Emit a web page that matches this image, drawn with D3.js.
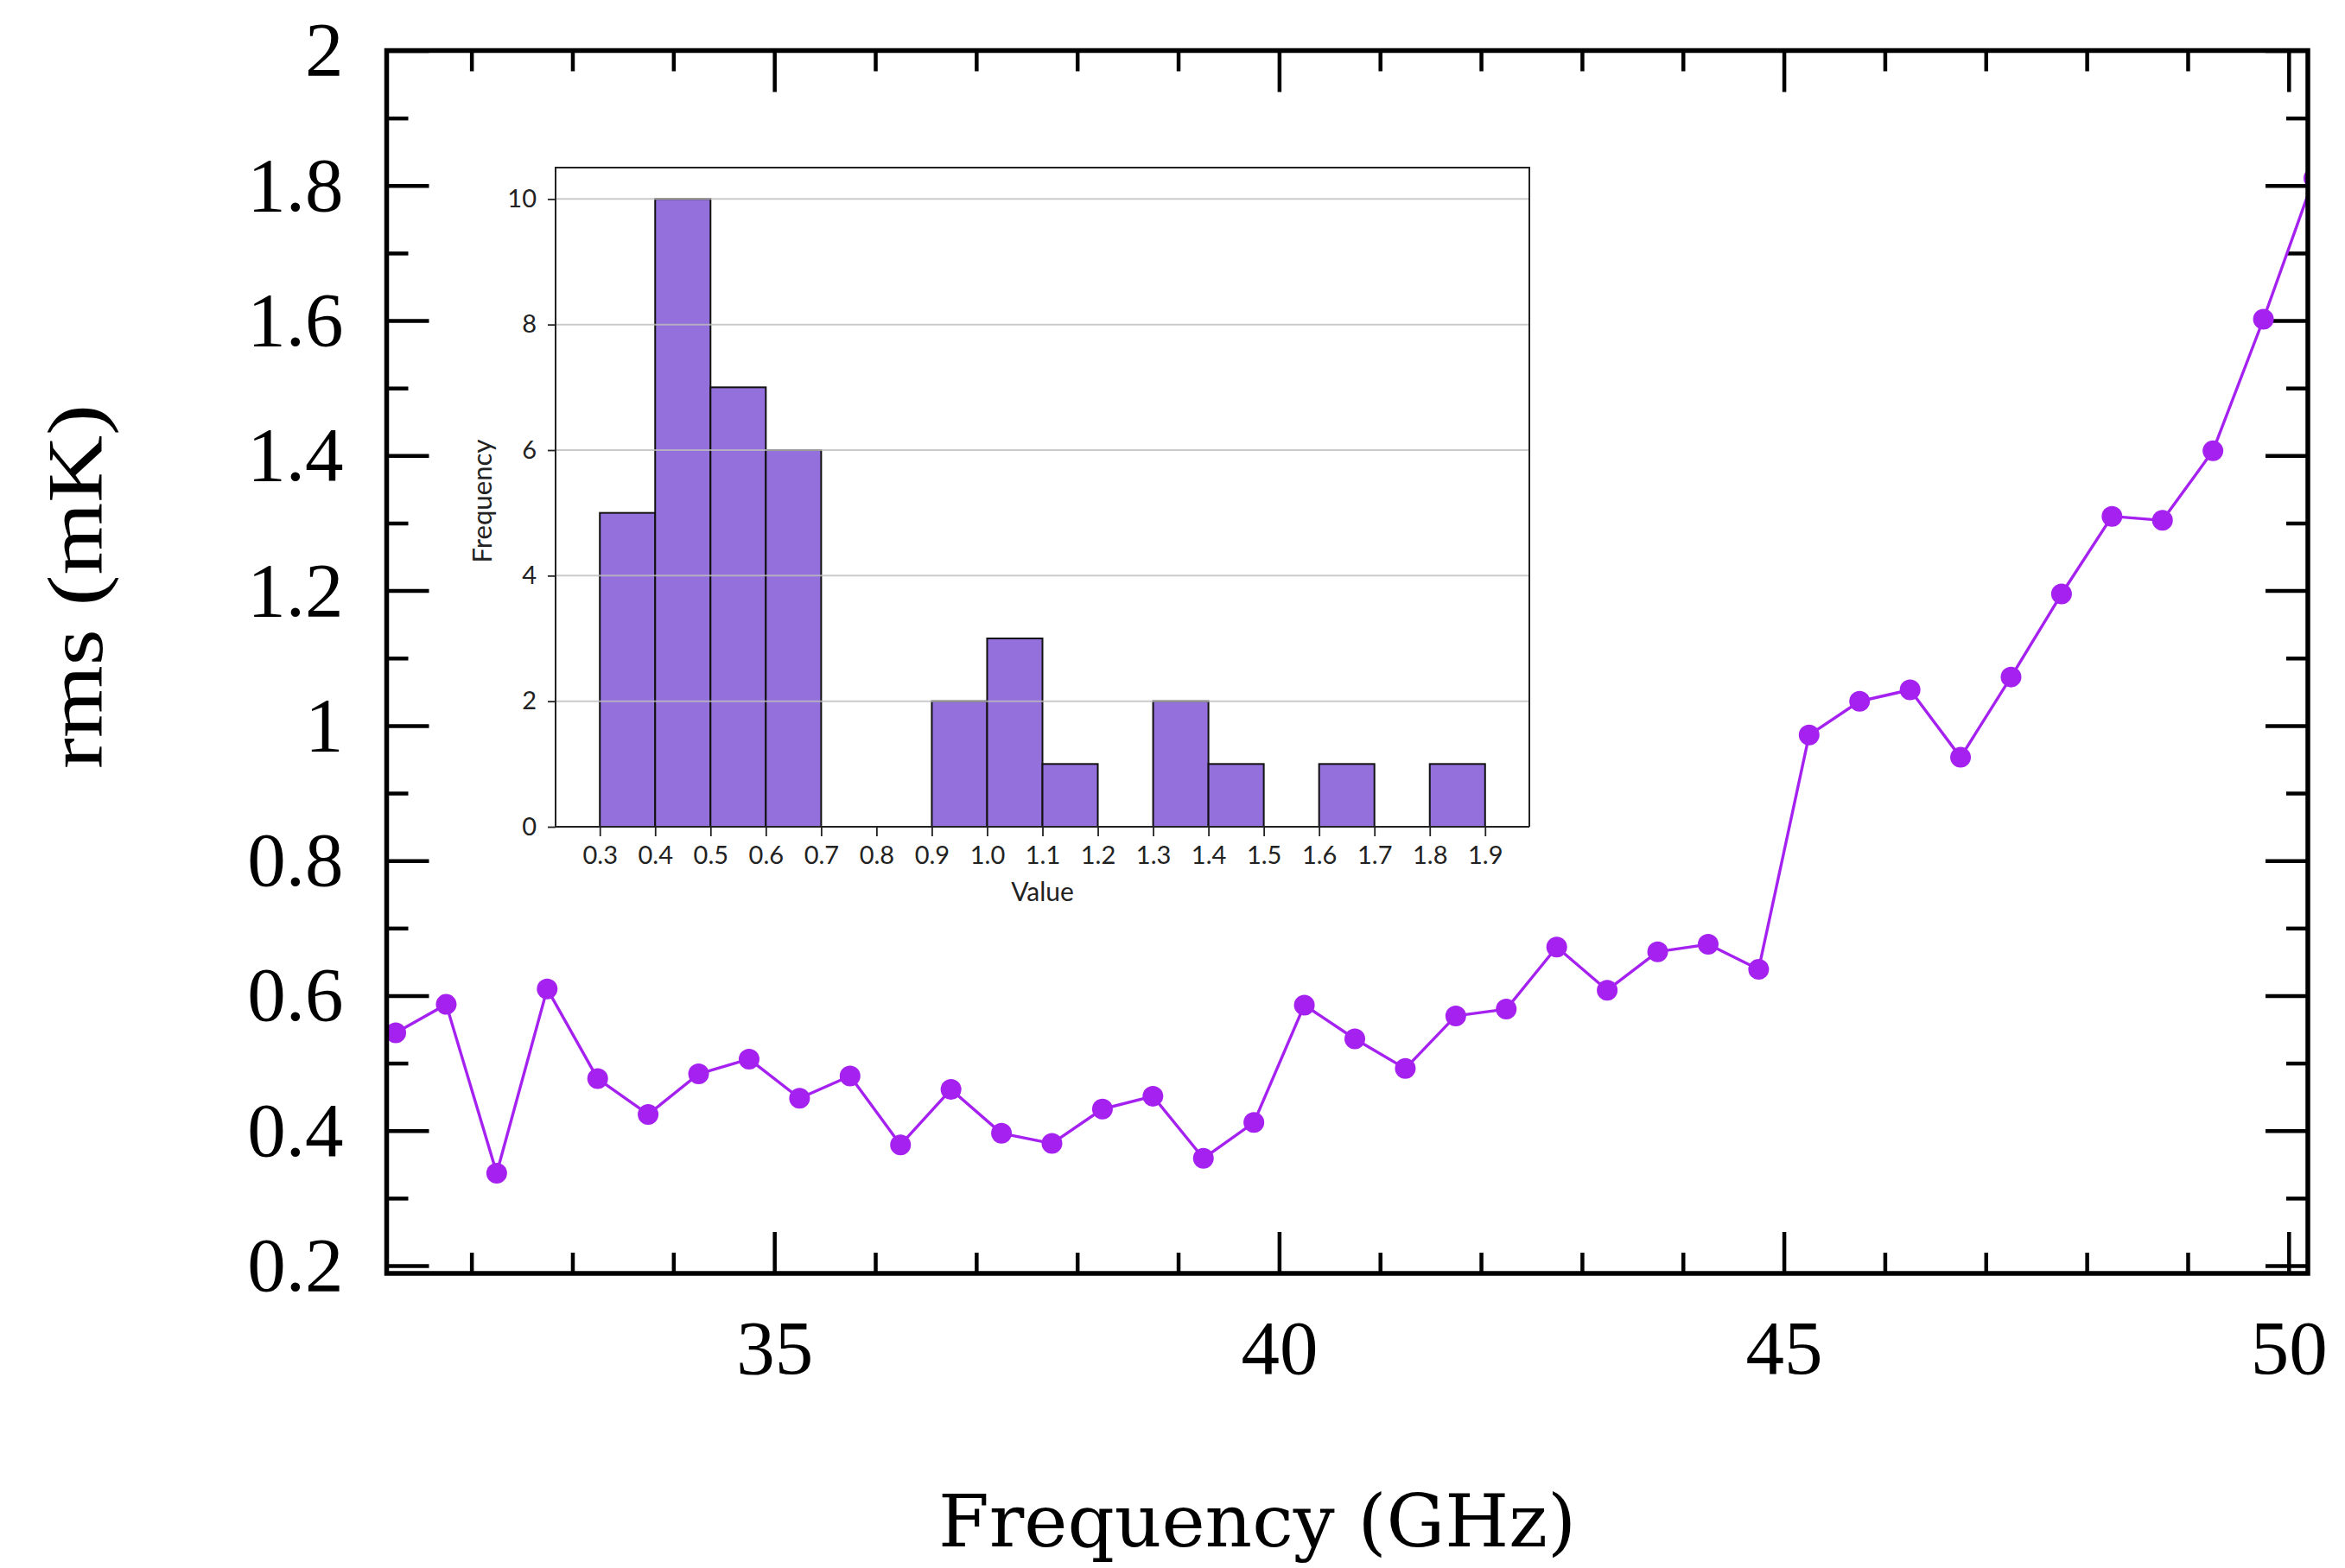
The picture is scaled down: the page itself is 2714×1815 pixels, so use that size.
<!DOCTYPE html>
<html>
<head>
<meta charset="utf-8">
<script src="https://cdn.jsdelivr.net/npm/d3@7"></script>
<style>
  html, body { margin: 0; padding: 0; background: #fff; }
  svg { display: block; }
</style>
</head>
<body>
<svg id="chart" width="2714" height="1815"></svg>
<script>
// ---- rms noise per frequency channel ----
const freqGHz = [31.25, 31.75, 32.25, 32.75, 33.25, 33.75, 34.25, 34.75, 35.25, 35.75,
                 36.25, 36.75, 37.25, 37.75, 38.25, 38.75, 39.25, 39.75, 40.25, 40.75,
                 41.25, 41.75, 42.25, 42.75, 43.25, 43.75, 44.25, 44.75, 45.25, 45.75,
                 46.25, 46.75, 47.25, 47.75, 48.25, 48.75, 49.25, 49.75, 50.25];
const rmsMK   = [0.545, 0.587, 0.337, 0.610, 0.477, 0.424, 0.484, 0.506, 0.448, 0.481,
                 0.379, 0.461, 0.396, 0.381, 0.432, 0.451, 0.359, 0.412, 0.586, 0.536,
                 0.492, 0.570, 0.580, 0.672, 0.608, 0.665, 0.676, 0.639, 0.986, 1.036,
                 1.053, 0.953, 1.072, 1.195, 1.310, 1.304, 1.407, 1.602, 1.811];

// main axes ticks
const xMajorTicks = [35, 40, 45, 50];
const xMinorTicks = [32, 33, 34, 36, 37, 38, 39, 41, 42, 43, 44, 46, 47, 48, 49];
const yMajorTicks = [0.2, 0.4, 0.6, 0.8, 1, 1.2, 1.4, 1.6, 1.8, 2];
const yMajorLabels = ["0.2", "0.4", "0.6", "0.8", "1", "1.2", "1.4", "1.6", "1.8", "2"];
const yMinorTicks = [0.3, 0.5, 0.7, 0.9, 1.1, 1.3, 1.5, 1.7, 1.9];

// ---- histogram of the rms values (inset) ----
const histBinStart = [0.3, 0.4, 0.5, 0.6, 0.7, 0.8, 0.9, 1.0, 1.1, 1.2, 1.3, 1.4, 1.5, 1.6, 1.7, 1.8];
const histCounts   = [5,   10,  7,   6,   0,   0,   2,   3,   1,   0,   2,   1,   0,   1,   0,   1];
const histBinWidth = 0.1;
const histXTicks = [0.3, 0.4, 0.5, 0.6, 0.7, 0.8, 0.9, 1.0, 1.1, 1.2, 1.3, 1.4, 1.5, 1.6, 1.7, 1.8, 1.9];
const histYTicks = [0, 2, 4, 6, 8, 10];

const svg = d3.select("#chart");

const LINE_COLOR = "#a521f0";
const serif = "'Liberation Serif', 'Times New Roman', serif";
const slab = "'DejaVu Serif', serif";
const sans = "Lato, 'Noto Sans', sans-serif";

// ---------- main panel ----------
const P = { left: 447.5, right: 2671, top: 58.5, bottom: 1474 };
const x = d3.scaleLinear().domain([31.16, 50.19]).range([P.left, P.right]);
const y = d3.scaleLinear().domain([0.1885, 2]).range([P.bottom, P.top]);

function tickMarks(axisFn, scale, values, size, tx, ty) {
  const g = svg.append("g")
    .attr("transform", `translate(${tx},${ty})`)
    .call(axisFn(scale).tickValues(values).tickSize(size).tickFormat(""));
  g.select(".domain").remove();
  g.selectAll("text").remove();
  g.selectAll(".tick line").attr("stroke", "#000").attr("stroke-width", 4.5);
  return g;
}

// inward ticks on all four sides
tickMarks(d3.axisLeft,   y, yMajorTicks, -49, P.left, 0);
tickMarks(d3.axisLeft,   y, yMinorTicks, -25, P.left, 0);
tickMarks(d3.axisRight,  y, yMajorTicks, -49, P.right, 0);
tickMarks(d3.axisRight,  y, yMinorTicks, -25, P.right, 0);
tickMarks(d3.axisBottom, x, xMajorTicks, -48, 0, P.bottom);
tickMarks(d3.axisBottom, x, xMinorTicks, -24, 0, P.bottom);
tickMarks(d3.axisTop,    x, xMajorTicks, -48, 0, P.top);
tickMarks(d3.axisTop,    x, xMinorTicks, -24, 0, P.top);

// tick labels
const yLab = svg.append("g")
  .attr("transform", `translate(${P.left},0)`)
  .call(d3.axisLeft(y).tickValues(yMajorTicks).tickSize(0).tickPadding(50)
        .tickFormat((d, i) => yMajorLabels[i]));
yLab.select(".domain").remove();
yLab.selectAll("text").attr("font-family", serif).attr("font-size", 89).attr("fill", "#000");

const xLab = svg.append("g")
  .attr("transform", `translate(0,${P.bottom})`)
  .call(d3.axisBottom(x).tickValues(xMajorTicks).tickSize(0).tickPadding(53)
        .tickFormat(d3.format("d")));
xLab.select(".domain").remove();
xLab.selectAll("text").attr("font-family", serif).attr("font-size", 89).attr("fill", "#000");

// axis titles
svg.append("text")
  .attr("x", 1455).attr("y", 1790)
  .attr("text-anchor", "middle")
  .attr("font-family", slab).attr("font-size", 84)
  .attr("textLength", 738).attr("lengthAdjust", "spacingAndGlyphs")
  .text("Frequency (GHz)");

svg.append("text")
  .attr("transform", "translate(118,679) rotate(-90)")
  .attr("text-anchor", "middle")
  .attr("font-family", serif).attr("font-size", 90)
  .attr("textLength", 422).attr("lengthAdjust", "spacingAndGlyphs")
  .text("rms (mK)");

// data line + markers, clipped to the frame
svg.append("clipPath").attr("id", "plotClip")
  .append("rect")
  .attr("x", P.left).attr("y", P.top)
  .attr("width", P.right - P.left).attr("height", P.bottom - P.top);

const series = freqGHz.map((f, i) => ({ f, v: rmsMK[i] }));
const gData = svg.append("g").attr("clip-path", "url(#plotClip)");

gData.append("path")
  .datum(series)
  .attr("fill", "none")
  .attr("stroke", LINE_COLOR)
  .attr("stroke-width", 3.4)
  .attr("stroke-linejoin", "round")
  .attr("d", d3.line().x(d => x(d.f)).y(d => y(d.v)));

gData.selectAll("circle")
  .data(series)
  .join("circle")
  .attr("cx", d => x(d.f))
  .attr("cy", d => y(d.v))
  .attr("r", 12)
  .attr("fill", LINE_COLOR);

// frame
svg.append("rect")
  .attr("x", P.left).attr("y", P.top)
  .attr("width", P.right - P.left).attr("height", P.bottom - P.top)
  .attr("fill", "none").attr("stroke", "#000").attr("stroke-width", 5.5);

// ---------- inset histogram ----------
const I = { left: 643, right: 1770, top: 194, bottom: 957 };
const hx = d3.scaleLinear().domain([0.22, 1.98]).range([I.left, I.right]);
const hy = d3.scaleLinear().domain([0, 10.5]).range([I.bottom, I.top]);

const gIn = svg.append("g");
gIn.append("rect")
  .attr("x", I.left).attr("y", I.top)
  .attr("width", I.right - I.left).attr("height", I.bottom - I.top)
  .attr("fill", "#fff");

const bins = histBinStart.map((s, i) => ({ x0: s, x1: s + histBinWidth, n: histCounts[i] }))
  .filter(b => b.n > 0);

gIn.selectAll("rect.bar")
  .data(bins)
  .join("rect")
  .attr("class", "bar")
  .attr("x", d => hx(d.x0))
  .attr("y", d => hy(d.n))
  .attr("width", d => hx(d.x1) - hx(d.x0))
  .attr("height", d => hy(0) - hy(d.n))
  .attr("fill", "#9370db")
  .attr("stroke", "#111")
  .attr("stroke-width", 2);

// horizontal grid over the bars
gIn.selectAll("line.grid")
  .data(histYTicks.filter(d => d > 0))
  .join("line")
  .attr("class", "grid")
  .attr("x1", I.left).attr("x2", I.right)
  .attr("y1", d => hy(d)).attr("y2", d => hy(d))
  .attr("stroke", "#bdbdbd").attr("stroke-opacity", 0.8)
  .attr("stroke-width", 2);

// inset frame (left, top, right) and baseline
gIn.append("path")
  .attr("d", `M${I.left},${I.bottom}V${I.top}H${I.right}V${I.bottom}`)
  .attr("fill", "none").attr("stroke", "#222").attr("stroke-width", 2);
gIn.append("line")
  .attr("x1", I.left).attr("x2", I.right)
  .attr("y1", I.bottom).attr("y2", I.bottom)
  .attr("stroke", "#222").attr("stroke-width", 2);

const hyAxis = gIn.append("g")
  .attr("transform", `translate(${I.left},0)`)
  .call(d3.axisLeft(hy).tickValues(histYTicks).tickSize(9).tickPadding(13).tickFormat(d3.format("d")));
hyAxis.select(".domain").remove();
hyAxis.selectAll(".tick line").attr("stroke", "#222").attr("stroke-width", 1.8);
hyAxis.selectAll("text").attr("font-family", sans).attr("font-size", 29).attr("fill", "#222");

const hxAxis = gIn.append("g")
  .attr("transform", `translate(0,${I.bottom})`)
  .call(d3.axisBottom(hx).tickValues(histXTicks).tickSize(11).tickPadding(11).tickFormat(d3.format(".1f")));
hxAxis.select(".domain").remove();
hxAxis.selectAll(".tick line").attr("stroke", "#222").attr("stroke-width", 1.8);
hxAxis.selectAll("text").attr("font-family", sans).attr("font-size", 29).attr("fill", "#222");

gIn.append("text")
  .attr("x", (I.left + I.right) / 2).attr("y", 1043)
  .attr("text-anchor", "middle")
  .attr("font-family", sans).attr("font-size", 30).attr("fill", "#222")
  .text("Value");

gIn.append("text")
  .attr("transform", "translate(569,580) rotate(-90)")
  .attr("text-anchor", "middle")
  .attr("font-family", sans).attr("font-size", 30).attr("fill", "#222")
  .attr("textLength", 143).attr("lengthAdjust", "spacingAndGlyphs")
  .text("Frequency");
</script>
</body>
</html>
